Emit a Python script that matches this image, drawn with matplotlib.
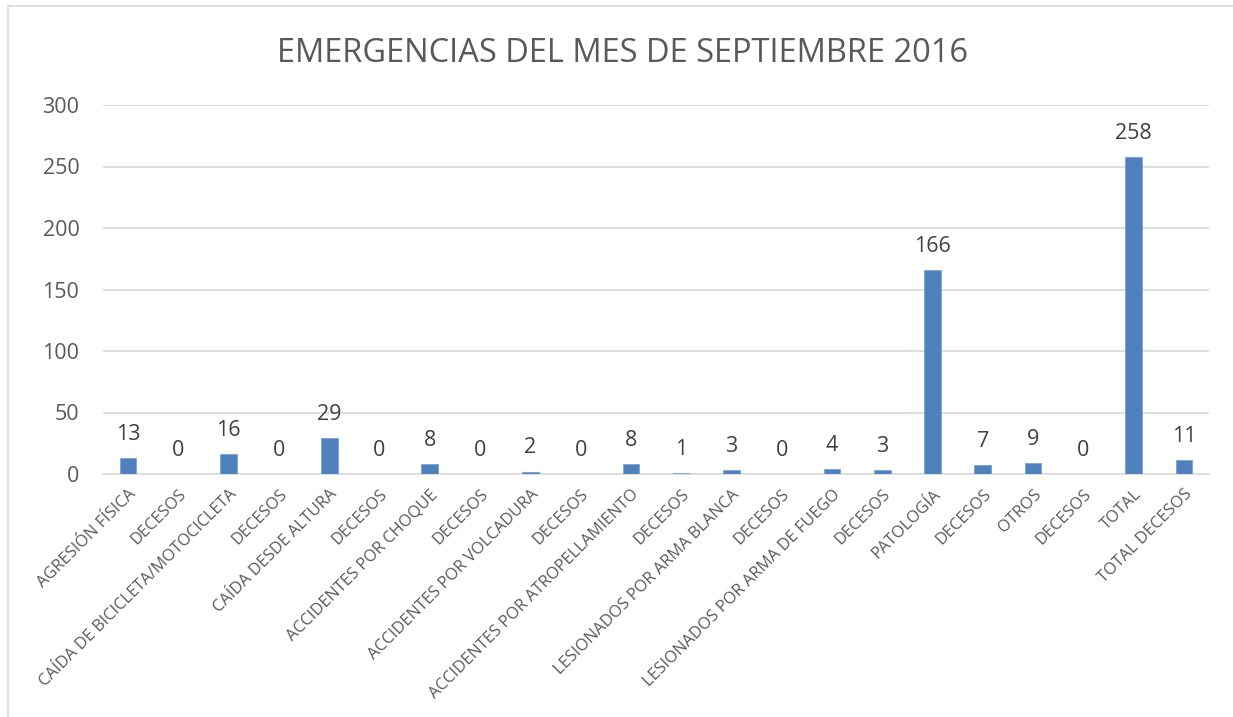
import numpy as np
import matplotlib
matplotlib.use('Agg')
import matplotlib.pyplot as plt
from matplotlib.patches import Rectangle

plt.rcParams['font.family'] = ['Open Sans', 'DejaVu Sans']

#data
categorias = ['AGRESIÓN FÍSICA', 'DECESOS', 'CAÍDA DE BICICLETA/MOTOCICLETA', 'DECESOS',
              'CAÍDA DESDE ALTURA', 'DECESOS', 'ACCIDENTES POR CHOQUE', 'DECESOS',
              'ACCIDENTES POR VOLCADURA', 'DECESOS', 'ACCIDENTES POR ATROPELLAMIENTO', 'DECESOS',
              'LESIONADOS POR ARMA BLANCA', 'DECESOS', 'LESIONADOS POR ARMA DE FUEGO', 'DECESOS',
              'PATOLOGÍA', 'DECESOS', 'OTROS', 'DECESOS', 'TOTAL', 'TOTAL DECESOS']
valores = [13, 0, 16, 0, 29, 0, 8, 0, 2, 0, 8, 1, 3, 0, 4, 3, 166, 7, 9, 0, 258, 11]
yticks = [0, 50, 100, 150, 200, 250, 300]

gris = '#595959'
fig = plt.figure(figsize=(12.33, 7.17), dpi=100)
ax = fig.add_axes([103/1233, 1-474/717, (1209-103)/1233, (474-105)/717])

x = np.arange(len(categorias))
ax.bar(x, valores, width=0.33, color='#4f81bd', edgecolor='#7da3d4', linewidth=0.6, zorder=3)

#value labels
for xi, v in zip(x, valores):
    ax.annotate(str(v), (xi, v), xytext=(0, 13), textcoords='offset points',
                ha='center', va='baseline', fontsize=15.5, color='#404040')

ax.set_xlim(-0.5, len(categorias) - 0.5)
ax.set_ylim(0, 300)
ax.set_yticks(yticks)
ax.set_yticklabels([str(t) for t in yticks], fontsize=15.5, color=gris)
ax.set_xticks(x)
ax.set_xticklabels(categorias, rotation=45, ha='right', rotation_mode='anchor',
                   fontsize=11.8, color=gris)
ax.tick_params(axis='both', length=0)
ax.tick_params(axis='y', pad=17)
ax.tick_params(axis='x', pad=9)
ax.grid(axis='y', color='#d9d9d9', linewidth=1.2, zorder=0)
for s in ['top', 'right', 'left']:
    ax.spines[s].set_visible(False)
ax.spines['bottom'].set_color('#d9d9d9')
ax.spines['bottom'].set_linewidth(1.2)

fig.text(0.505, 1 - 62/717, 'EMERGENCIAS DEL MES DE SEPTIEMBRE 2016', ha='center', va='baseline',
         fontsize=23.5, color=gris)

#chart border
fig.patches.append(Rectangle((8/1233, -0.1), 1.2, 1 - 6/717 + 0.1, transform=fig.transFigure,
                             fill=False, edgecolor='#d9d9d9', linewidth=1.2))

plt.savefig('out.png', dpi=100)
